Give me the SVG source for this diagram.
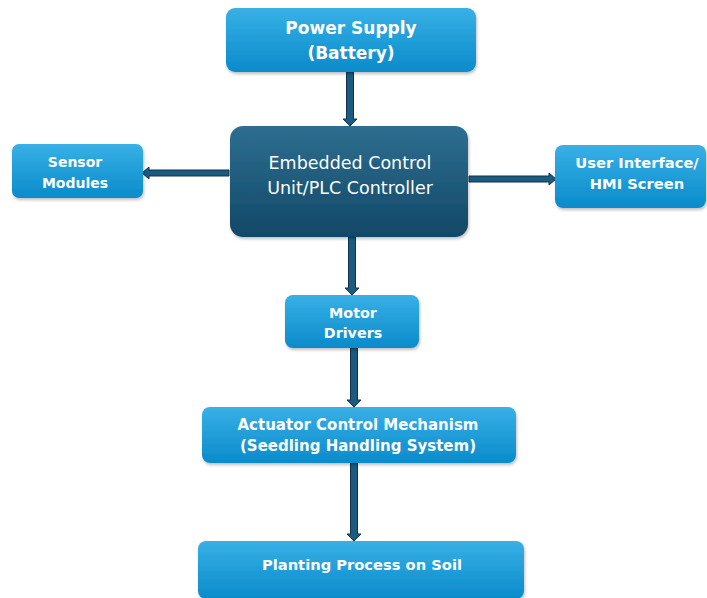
<svg xmlns="http://www.w3.org/2000/svg" width="707" height="598" viewBox="0 0 707 598">
<defs>
<linearGradient id="gl" x1="0" y1="0" x2="0" y2="1">
<stop offset="0" stop-color="#38b0e6"/>
<stop offset="1" stop-color="#0a8bcb"/>
</linearGradient>
<linearGradient id="gd" x1="0" y1="0" x2="0" y2="1">
<stop offset="0" stop-color="#2e6e90"/>
<stop offset="1" stop-color="#114867"/>
</linearGradient>
<filter id="sh" x="-10%" y="-10%" width="120%" height="130%">
<feDropShadow dx="1" dy="2" stdDeviation="1.5" flood-color="#000" flood-opacity="0.25"/>
</filter>
</defs>
<style>
.lb{fill:url(#gl);filter:url(#sh)}
.db{fill:url(#gd);filter:url(#sh)}
.t{font-family:"DejaVu Sans","Liberation Sans",sans-serif;font-weight:bold;fill:#fff;text-anchor:middle}
.tr{font-family:"DejaVu Sans","Liberation Sans",sans-serif;font-weight:normal;fill:#fff;text-anchor:middle}
.ar{fill:#1d5a7f;stroke:#0d3450;stroke-width:1}
</style>
<rect width="707" height="598" fill="#fff"/>
<g id="connectors">
<polygon class="ar" points="346.5,72 353.5,72 353.5,119 357,119 350,126 343,119 346.5,119"/>
<polygon class="ar" points="229,170 149,170 149,167 142,173 149,179 149,176 229,176"/>
<polygon class="ar" points="469,176 549,176 549,173 556,179 549,185 549,182 469,182"/>
<polygon class="ar" points="348.5,237 355.5,237 355.5,288 359,288 352,295 345,288 348.5,288"/>
<polygon class="ar" points="350.5,348 357.5,348 357.5,400 361,400 354,407 347,400 350.5,400"/>
<polygon class="ar" points="350.5,463 357.5,463 357.5,534 361,534 354,541 347,534 350.5,534"/>
</g>
<g id="power">
<rect class="lb" x="226" y="8" width="250" height="64" rx="9"/>
<text class="t" x="351" y="34" font-size="17">Power Supply</text>
<text class="t" x="351" y="59" font-size="17">(Battery)</text>
</g>
<g id="ecu">
<rect class="db" x="230" y="126" width="238" height="111" rx="13"/>
<text class="tr" x="350" y="169" font-size="17.5">Embedded Control</text>
<text class="tr" x="350" y="194" font-size="17.5">Unit/PLC Controller</text>
</g>
<g id="sensor">
<rect class="lb" x="12" y="144" width="131" height="54" rx="7"/>
<text class="t" x="75" y="167" font-size="14">Sensor</text>
<text class="t" x="75" y="188" font-size="14">Modules</text>
</g>
<g id="hmi">
<rect class="lb" x="555" y="145" width="151" height="63" rx="8"/>
<text class="t" x="637" y="168" font-size="14.7">User Interface/</text>
<text class="t" x="637" y="189" font-size="14.7">HMI Screen</text>
</g>
<g id="motor">
<rect class="lb" x="285" y="295" width="134" height="53" rx="8"/>
<text class="t" x="353" y="318" font-size="14.3">Motor</text>
<text class="t" x="353" y="338" font-size="14.3">Drivers</text>
</g>
<g id="actuator">
<rect class="lb" x="202" y="407" width="314" height="56" rx="8"/>
<text class="t" x="358" y="430" font-size="15">Actuator Control Mechanism</text>
<text class="t" x="358" y="451" font-size="15">(Seedling Handling System)</text>
</g>
<g id="planting">
<rect class="lb" x="198" y="541" width="326" height="58" rx="8"/>
<text class="t" x="362" y="570" font-size="14.7">Planting Process on Soil</text>
</g>
</svg>
